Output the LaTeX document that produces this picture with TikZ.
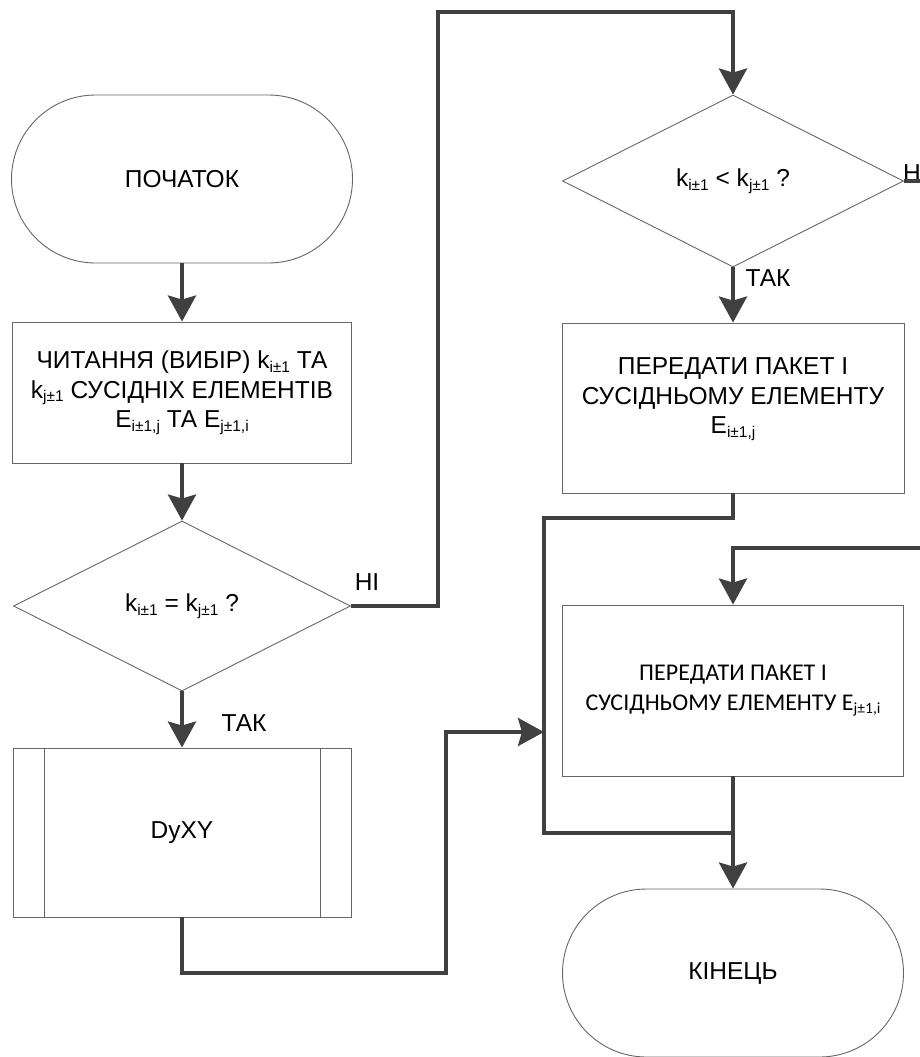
\documentclass[tikz,border=0pt]{standalone}
\usepackage{fontspec}
\setmainfont{Liberation Sans}
\newfontfamily\calibfont{Carlito}
\usetikzlibrary{shapes.geometric,shapes.misc,arrows.meta}
\definecolor{linec}{HTML}{404040}
\definecolor{edgec}{HTML}{666666}
% lowered small index, as in k_{i±1}
\newcommand\lowsub[1]{\raisebox{-3.5pt}{\fontsize{15.5}{15.5}\selectfont #1}}
\begin{document}
\begin{tikzpicture}[x=1pt,y=-1pt,
  every node/.style={font=\fontsize{24.5}{29.5}\selectfont, text=black},
  outl/.style={draw=edgec, line width=0.9pt},
  term/.style={outl, rounded rectangle, rounded rectangle arc length=180,
               minimum width=341pt, minimum height=168pt, inner sep=0pt},
  proc/.style={outl, rectangle, inner sep=0pt, align=center},
  decis/.style={outl, diamond, inner sep=0pt},
  conn/.style={draw=linec, line width=4pt},
  arr/.style={conn, -{Stealth[length=26pt,width=28pt,inset=4pt]}},
  lbl/.style={font=\fontsize{24.5}{24.5}\selectfont, inner sep=0pt},
  txt/.style={align=center, inner sep=0pt}
]
\useasboundingbox (0,0) rectangle (920,1057);
\clip (0,0) rectangle (920,1057);

% left column
\node[term] (start) at (182,179) {ПОЧАТОК};
\node[proc, minimum width=339pt, minimum height=141pt] (read) at (182,392.5)
  {ЧИТАННЯ (ВИБІР) k\lowsub{i±1} ТА\\k\lowsub{j±1} СУСІДНІХ ЕЛЕМЕНТІВ\\E\lowsub{i±1,j} ТА E\lowsub{j±1,i}};
\node[decis, minimum width=337pt, minimum height=170pt] (dec1) at (182,606)
  {k\lowsub{i±1} = k\lowsub{j±1} ?};
\node[proc, minimum width=338pt, minimum height=169pt] (dyxy) at (182,832.5) {DyXY};
\draw[outl] ([xshift=32pt]dyxy.north west) -- ([xshift=32pt]dyxy.south west);
\draw[outl] ([xshift=-31pt]dyxy.north east) -- ([xshift=-31pt]dyxy.south east);

% right column
\node[decis, minimum width=341pt, minimum height=172pt] (dec2) at (733,181)
  {k\lowsub{i±1} < k\lowsub{j±1} ?};
\node[proc, minimum width=342pt, minimum height=170pt] (send1) at (733,408) {};
\node[txt] (send1t) at (733,399)
  {ПЕРЕДАТИ ПАКЕТ І\\СУСІДНЬОМУ ЕЛЕМЕНТУ\\E\lowsub{i±1,j}};
\node[proc, minimum width=341pt, minimum height=171pt,
      font=\calibfont\fontsize{24}{30}\selectfont] (send2) at (733,690.5)
  {ПЕРЕДАТИ ПАКЕТ І\\СУСІДНЬОМУ ЕЛЕМЕНТУ E\lowsub{j±1,i}};
\node[term] (finish) at (733,973) {КІНЕЦЬ};

% branch labels
\node[lbl] (no1) at (367,582) {НІ};
\node[lbl] (yes1) at (244,723) {ТАК};
\node[lbl] (yes2) at (768,278) {ТАК};
\node[lbl, anchor=west] (no2) at (903,173) {НІ};

% routing points
\coordinate (upA) at (438,12);
\coordinate (bendB) at (544,518);
\coordinate (merge) at (733,833);
\coordinate (lowC) at (446,973);
\coordinate (joinC) at (544,732);
\coordinate (outR) at (940,181);
\coordinate (backR) at (940,548);

% connectors
\draw[arr] (start.south) -- (read.north);
\draw[arr] (read.south) -- (dec1.north);
\draw[arr] (dec1.east) -| (upA) -| (dec2.north);
\draw[arr] (dec1.south) -- (dyxy.north);
\draw[arr] (dec2.south) -- (send1.north);
\draw[arr] (dec2.east) -- (outR) -- (backR) -| (send2.north);
\draw[conn] (send1.south) |- (bendB) -- (bendB |- merge) -- (merge);
\draw[arr] (send2.south) -- (finish.north);
\draw[arr] (dyxy.south) |- (lowC) |- (joinC);
\end{tikzpicture}
\end{document}
